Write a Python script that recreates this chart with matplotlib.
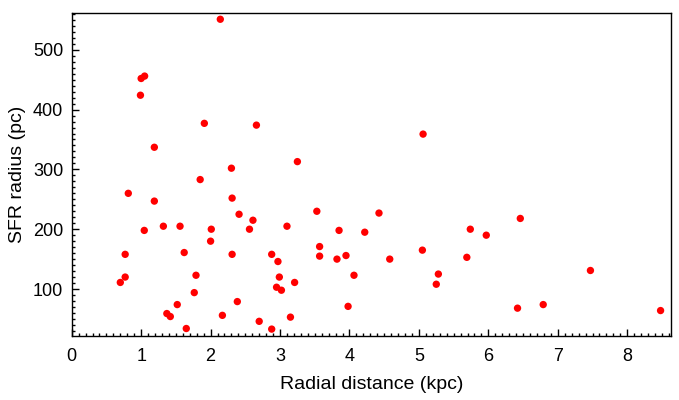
import matplotlib
matplotlib.use("Agg")
import matplotlib.pyplot as plt
from matplotlib.ticker import MultipleLocator

plt.rcParams['font.family'] = ['Liberation Sans', 'DejaVu Sans']

# radial distance (kpc) and SFR radius (pc)
radial_kpc = [2.14, 1.00, 1.05, 0.99, 1.91, 2.66, 1.19, 3.25, 2.30, 1.85,
              0.815, 1.19, 2.31, 3.53, 2.41, 2.61, 1.045, 1.32, 1.56, 2.01,
              2.56, 3.10, 3.85, 2.00, 3.57, 1.62, 0.77, 2.31, 2.88, 3.57,
              2.97, 3.82, 3.95, 4.065, 0.77, 0.70, 1.79, 2.99, 3.21, 2.95,
              3.02, 1.765, 1.52, 2.385, 1.37, 1.42, 2.17, 3.15, 2.70, 1.65,
              2.88, 4.425, 4.22, 3.98, 4.58, 5.05, 5.74, 5.97, 6.46, 5.69,
              5.28, 5.25, 7.47, 6.42, 6.79, 8.48, 5.06]
sfr_radius_pc = [551, 452, 456, 424, 377, 374, 337, 313, 302, 283,
                 260, 247, 252, 230, 225, 215, 198, 205, 205, 200,
                 200, 205, 198, 180, 171, 161, 158, 158, 158, 155,
                 146, 150, 156, 123, 120, 111, 123, 120, 111, 103,
                 98, 94, 74, 79, 59, 54, 56, 53, 46, 34,
                 33, 227, 195, 71, 150, 165, 200, 190, 218, 153,
                 125, 108, 131, 68, 74, 64, 359]

fig = plt.figure(figsize=(6.79, 4.00), dpi=100)
ax = fig.add_axes([0.1056, 0.1608, 0.8826, 0.806])

ax.scatter(radial_kpc, sfr_radius_pc, s=28, color='#ff0000', edgecolors='none', zorder=3)

ax.set_xlim(0, 8.63)
ax.set_ylim(22, 561)
ax.xaxis.set_major_locator(MultipleLocator(1))
ax.xaxis.set_minor_locator(MultipleLocator(0.1))
ax.yaxis.set_major_locator(MultipleLocator(100))
ax.yaxis.set_minor_locator(MultipleLocator(10))
ax.tick_params(which='both', direction='in', top=False, right=False, color='black', width=1.0)
ax.tick_params(which='major', length=5, labelsize=13)
ax.tick_params(axis='x', which='major', pad=9)
ax.tick_params(axis='y', which='major', pad=6)
ax.tick_params(which='minor', length=2.5)
for sp in ax.spines.values():
    sp.set_linewidth(1.0)

ax.set_xlabel('Radial distance (kpc)', fontsize=14, labelpad=8)
ax.set_ylabel('SFR radius (pc)', fontsize=14, labelpad=5)

fig.savefig('out.png', dpi=100)
